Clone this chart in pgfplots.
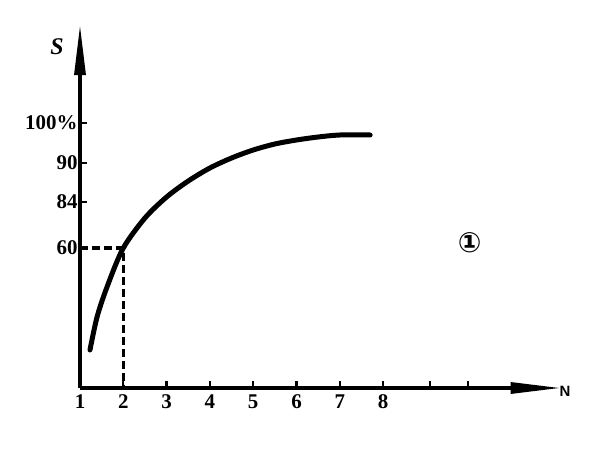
\documentclass[border=0pt]{standalone}
\usepackage{pgfplots}
\pgfplotsset{compat=1.18}
\usepackage{fontspec}
\setmainfont{Liberation Serif}
\newfontfamily\symfont{DejaVu Sans}
\newfontfamily\nfont{Liberation Sans}
\usetikzlibrary{arrows.meta,calc}
\begin{document}
\begin{tikzpicture}
\begin{axis}[
  x=43.3bp, y=1bp,
  xmin=1, xmax=12.1, ymin=0, ymax=363,
  axis x line=bottom, axis y line=left,
  clip=false,
  axis line style={line width=3.2bp},
  x axis line style={-{Stealth[length=50bp,width=11bp,inset=0bp]}},
  y axis line style={-{Stealth[length=50bp,width=11bp,inset=0bp]}},
  tick align=inside,
  major tick length=7bp,
  tick style={line width=2.4bp, black},
  xtick={1,2,3,4,5,6,7,8,9.08,9.96},
  xticklabels={1,2,3,4,5,6,7,8,{},{}},
  ytick={140,186,225,265},
  yticklabels={60,84,90,100\%},
  ticklabel style={font=\fontsize{21}{21}\selectfont\bfseries},
  xticklabel style={yshift=-3bp},
  yticklabel style={xshift=1bp},
]
\coordinate (O) at (axis cs:1,0);
\addplot[black, line width=3.2bp, dash pattern=on 8bp off 4bp] coordinates {(1,140) (2,140) (2,0)};
\addplot[black, line width=5bp, smooth, tension=0.5, line cap=round] coordinates {
 (1.23,38) (1.4,72) (1.65,104) (2.0,140) (2.5,170) (3.0,191) (3.5,207)
 (4.0,220) (4.5,230) (5.0,238) (5.5,244) (6.0,248) (6.5,251) (7.0,253) (7.7,253)};
\node[font=\fontsize{24}{24}\selectfont\bfseries\itshape] at (axis cs:0.47,341) {S};
\node[font=\fontsize{15}{15}\selectfont\bfseries\nfont] at (axis cs:12.2,-3) {N};
\node[font=\fontsize{28}{28}\selectfont\symfont\bfseries] at (axis cs:10.0,145) {①};
\end{axis}
\pgfresetboundingbox
\useasboundingbox ($(O)+(-80bp,-63bp)$) rectangle ($(O)+(511bp,388bp)$);
\end{tikzpicture}
\end{document}
